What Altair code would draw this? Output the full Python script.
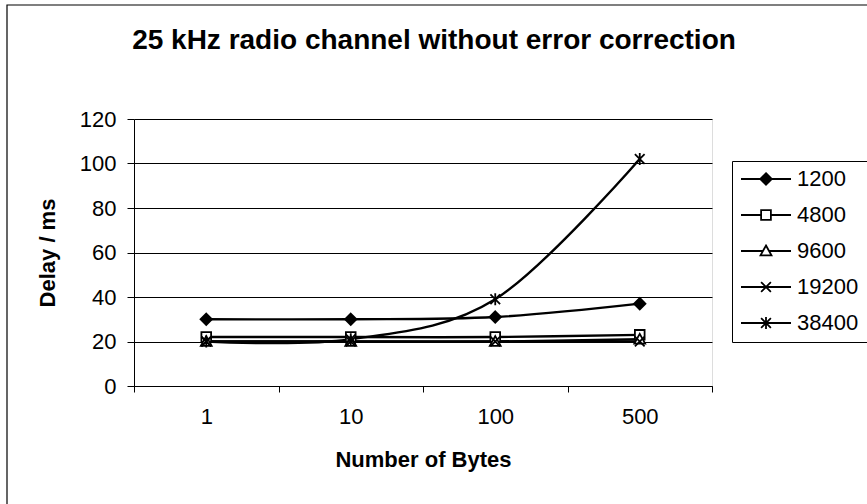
import json
import altair as alt
import pandas as pd

# Payload sizes (category axis) and measured delays per bit rate
byte_labels = ["1", "10", "100", "500"]
series_names = ["1200", "4800", "9600", "19200", "38400"]
delay_1200 = [30, 30, 31, 37]
delay_4800 = [22, 22, 22, 23]
delay_9600 = [20, 20, 20, 21]
delay_19200 = [20, 20, 20, 20]
delay_38400 = [20, 21, 39, 102]

chart_title = "25 kHz radio channel without error correction"

all_delays = [delay_1200, delay_4800, delay_9600, delay_19200, delay_38400]
rows = []
for name, values in zip(series_names, all_delays):
    for i, (lbl, v) in enumerate(zip(byte_labels, values)):
        rows.append({"series": name, "bytes": lbl, "pos": i, "delay": v})
df = pd.DataFrame(rows)

FONT = "Liberation Sans"

# Marker outlines in unit coordinates
marker_paths = {
    "1200": "M0,-1L1,0L0,1L-1,0Z",
    "4800": "M-0.85,-0.85H0.85V0.85H-0.85Z",
    "9600": "M0,-0.95L0.95,0.75H-0.95Z",
    "19200": "M-0.85,-0.85L0.85,0.85M-0.85,0.85L0.85,-0.85",
    "38400": "M-0.85,-0.85L0.85,0.85M-0.85,0.85L0.85,-0.85M0,-1.05L0,1.05",
}
marker_fill = {
    "1200": "black",
    "4800": "white",
    "9600": "white",
    "19200": "transparent",
    "38400": "transparent",
}

# Legend glyphs: a short line segment with the marker in its middle
k = 0.23
legend_paths = [
    "M-1,0H1M0,-{a}L{a},0L0,{a}L-{a},0Z".format(a=1.0 * k),
    "M-1,0H-{a}M{a},0H1M-{a},-{a}H{a}V{a}H-{a}Z".format(a=0.85 * k),
    "M-1,0H-{c}M{c},0H1M0,-{t}L{b},{h}H-{b}Z".format(
        t=0.95 * k, b=0.95 * k, h=0.75 * k, c=0.5 * k),
    "M-1,0H1M-{a},-{a}L{a},{a}M-{a},{a}L{a},-{a}".format(a=0.85 * k),
    "M-1,0H1M-{a},-{a}L{a},{a}M-{a},{a}L{a},-{a}M0,-{v}L0,{v}".format(
        a=0.85 * k, v=1.05 * k),
]
legend_fills = [marker_fill[n] for n in series_names]

x_scale = alt.Scale(domain=[-0.5, 3.5], nice=False, zero=False)
y_scale = alt.Scale(domain=[0, 120], nice=False)

label_expr = "datum.value % 1 == 0 ? {}[datum.value] : ''".format(json.dumps(byte_labels))
x_axis = alt.Axis(
    values=[-0.5, 0, 0.5, 1, 1.5, 2, 2.5, 3, 3.5],
    labelExpr=label_expr,
    labelOverlap=False,
    labelFlush=False,
    tickColor={"condition": {"test": "datum.value % 1 != 0", "value": "black"},
               "value": "transparent"},
    tickSize=6,
    grid=False,
    domainColor="black",
    labelFontSize=22,
    labelFont=FONT,
    labelColor="black",
    labelPadding=14,
    title="Number of Bytes",
    titleFont=FONT,
    titleFontSize=22,
    titleFontWeight="bold",
    titleColor="black",
    titlePadding=22,
)
y_axis = alt.Axis(
    values=[0, 20, 40, 60, 80, 100, 120],
    grid=True,
    gridColor="black",
    gridWidth=1,
    tickColor="black",
    tickSize=7,
    domainColor="black",
    labelFontSize=22,
    labelFont=FONT,
    labelColor="black",
    labelPadding=11,
    title="Delay / ms",
    titleFont=FONT,
    titleFontSize=22,
    titleFontWeight="bold",
    titleColor="black",
    titlePadding=20,
)

base = alt.Chart(df)
single = alt.Chart(alt.Data(values=[{"t": chart_title}]))

# Outer chart border (left and top edges fall inside the page)
frame = single.mark_rect(
    fill="transparent", stroke="black", strokeWidth=1.2
).encode(
    x=alt.value(-127), x2=alt.value(760),
    y=alt.value(-114), y2=alt.value(420),
)

# Chart heading drawn as a text mark above the plot
heading = single.mark_text(
    font=FONT, fontSize=28, fontWeight="bold", color="black",
    align="center", baseline="alphabetic",
).encode(
    text="t:N",
    x=alt.value(300),
    y=alt.value(-70),
)

lines = base.mark_line(
    interpolate="cardinal", color="black", strokeWidth=2.4
).encode(
    x=alt.X("pos:Q", scale=x_scale, axis=x_axis),
    y=alt.Y("delay:Q", scale=y_scale, axis=y_axis),
    detail="series:N",
    order="pos:Q",
)

point_layers = []
for name in series_names:
    point_layers.append(
        base.transform_filter(alt.datum.series == name).mark_point(
            shape=marker_paths[name],
            filled=True,
            fill=marker_fill[name],
            stroke="black",
            strokeWidth=1.8,
            size=130,
            opacity=1,
        ).encode(
            x=alt.X("pos:Q", scale=x_scale),
            y=alt.Y("delay:Q", scale=y_scale),
        )
    )

legend_def = alt.Legend(
    title=None,
    orient="none",
    legendX=598,
    legendY=42,
    padding=8,
    strokeColor="black",
    fillColor="white",
    symbolSize=2500,
    clipHeight=20,
    rowPadding=14,
    labelFont=FONT,
    labelFontSize=22,
    labelColor="black",
    labelOffset=5,
    symbolStrokeColor="black",
    symbolStrokeWidth=1.8,
    symbolOpacity=1,
)

legend_layer = base.transform_filter("false").mark_point(
    stroke="black", strokeWidth=1.8
).encode(
    x=alt.X("pos:Q", scale=x_scale),
    y=alt.Y("delay:Q", scale=y_scale),
    shape=alt.Shape("series:N", scale=alt.Scale(domain=series_names, range=legend_paths),
                    legend=legend_def),
    fill=alt.Fill("series:N", scale=alt.Scale(domain=series_names, range=legend_fills),
                  legend=legend_def),
    stroke=alt.Stroke("series:N", scale=alt.Scale(domain=series_names,
                                                  range=["black"] * len(series_names)),
                      legend=legend_def),
)

chart = alt.layer(frame, heading, lines, *point_layers, legend_layer).properties(
    width=578,
    height=267,
    autosize=alt.AutoSizeParams(type="none"),
    padding={"left": 134, "top": 119, "right": 155, "bottom": 118},
).configure_view(
    stroke="#808080", strokeWidth=1.5, fill="white"
).configure(background="white")

chart.save("out.html", embed_options={"renderer": "svg", "actions": False})
